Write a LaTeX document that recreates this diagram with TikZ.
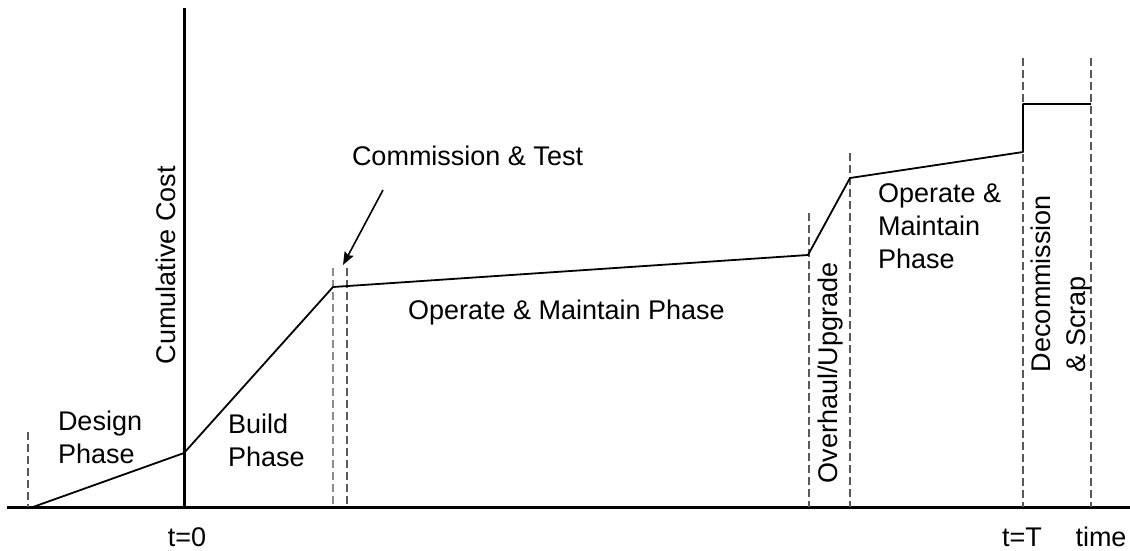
\documentclass[tikz,border=0pt]{standalone}
\usepackage{fontspec}
\setmainfont{Liberation Sans}
\usetikzlibrary{arrows.meta}
\begin{document}
\begin{tikzpicture}[x=1pt,y=-1pt,
  font=\fontsize{27}{33}\selectfont,
  lbl/.style={inner sep=0pt, outer sep=0pt, align=left},
  phaseline/.style={dash pattern=on 8pt off 4pt, line width=1.3pt, black!65},
  axisline/.style={line width=3pt},
  costline/.style={line width=1.8pt, line join=round},
  pointer/.style={line width=1.6pt, -{Stealth[length=13pt,width=10pt,inset=2pt]}}]
\useasboundingbox (0,0) rectangle (1130,550);

% axes
\coordinate (xl) at (7,507);
\coordinate (xr) at (1130,507);
\coordinate (yb) at (184,507);
\coordinate (yt) at (184,8);
\draw[axisline] (xl) -- (xr);
\draw[axisline] (yb) -- (yt);

% phase boundaries
\foreach \x/\t [count=\i] in {28/432, 333/268, 347/268, 809/213, 850/153, 1023/58, 1091/58}{
  \coordinate (pt\i) at (\x,\t);
  \coordinate (pb\i) at (\x,507);
}
\draw[phaseline] (pt1) -- (pb1);
\draw[phaseline, black!45, line width=2pt] (pt2) -- (pb2);
\draw[phaseline] (pt3) -- (pb3);
\draw[phaseline] (pt4) -- (pb4);
\draw[phaseline] (pt5) -- (pb5);
\draw[phaseline] (pt6) -- (pb6);
\draw[phaseline] (pt7) -- (pb7);

% cost curve
\coordinate (c0) at (33,507);
\coordinate (c1) at (184,453);
\coordinate (c2) at (333,287);
\coordinate (c3) at (808,255);
\coordinate (c4) at (850,178);
\coordinate (c5) at (1023,152);
\coordinate (c6) at (1023,104);
\coordinate (c7) at (1091,104);
\draw[costline] (c0) -- (c1) -- (c2) -- (c3) -- (c4) -- (c5) -- (c6) -- (c7);

% labels
\node[lbl, anchor=north west] (design) at (58,411) {Design\\Phase};
\node[lbl, anchor=north west] (build) at (228,414) {Build\\Phase};
\node[lbl, anchor=base west] (ct) at (352,165) {Commission \& Test};
\node[lbl, anchor=base west] (om1) at (408,319) {Operate \& Maintain Phase};
\node[lbl, anchor=north west] (om2) at (878,184) {Operate \&\\Maintain\\Phase};
\node[lbl, anchor=base, rotate=90] (cc) at (175,265) {Cumulative Cost};
\node[lbl, anchor=base, rotate=90] (ou) at (837,373) {Overhaul/Upgrade};
\node[lbl, anchor=north west, rotate=90, font=\fontsize{27}{35}\selectfont] (ds) at (1031,372) {Decommission\\\& Scrap};
\node[lbl, anchor=base] (t0) at (187,546) {t=0};
\node[lbl, anchor=base] (tT) at (1022,546) {t=T};
\node[lbl, anchor=base] (time) at (1101,546) {time};

% pointer
\coordinate (as) at (383,190);
\coordinate (ae) at (343,265);
\draw[pointer] (as) -- (ae);
\end{tikzpicture}
\end{document}
